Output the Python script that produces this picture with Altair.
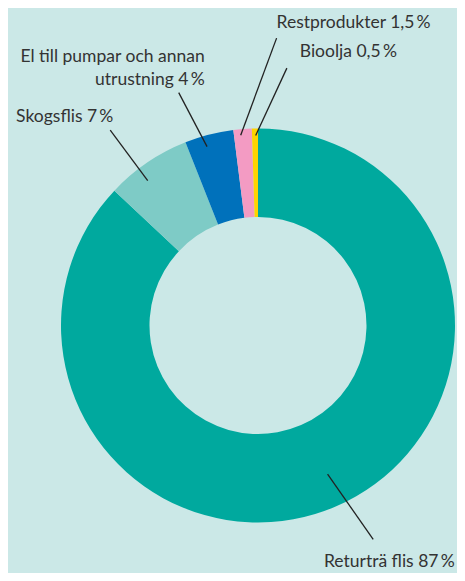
import math
import altair as alt
import pandas as pd

# ---- data ----
categories = ["Returträ flis", "Skogsflis", "El till pumpar och annan utrustning",
              "Restprodukter", "Bioolja"]
values = [87, 7, 4, 1.5, 0.5]
label_lines = [["Returträ flis 87\u2009%"], ["Skogsflis 7\u2009%"],
               ["El till pumpar och annan", "utrustning 4\u2009%"],
               ["Restprodukter 1,5\u2009%"], ["Bioolja 0,5\u2009%"]]
colors = ["#00a99e", "#7ecbc6", "#0071bb", "#f39bc3", "#ffd400"]

# ---- layout (not data) ----
BG = "#cbe8e7"
W, H = 449, 565
CX, CY = 250, 317.5          # donut centre inside the plot area (px)
R_OUT, R_IN = 197, 108.5
# leader line: (angle offset inner, radius inner, angle offset outer, radius outer)
leader = [(-1.7, 164, -4.9, 243), (-3.1, 182, -2.9, 245), (-1.5, 186, -4.4, 246),
          (-0.7, 191, 8.2, 288), (0.2, 190, 7.3, 259)]
# text offset from outer end of leader (dx right, dy down, px), align
text_off = [(81.5, 27.5, "right"), (-45.5, -8, "center"), (26, -31, "right"),
            (77, -10, "center"), (61.5, -11, "center")]
LINE_H = 23

total = sum(values)
cum = 0.0
arc_rows, rule_rows, text_rows = [], [], []
for i, (c, v) in enumerate(zip(categories, values)):
    a0 = cum / total * 360
    cum += v
    a1 = cum / total * 360
    mid = (a0 + a1) / 2
    arc_rows.append({"cat": c, "value": v, "order": i})
    di, ri, do, ro = leader[i]
    xi = ri * math.sin(math.radians(mid + di))
    yi = ri * math.cos(math.radians(mid + di))
    xo = ro * math.sin(math.radians(mid + do))
    yo = ro * math.cos(math.radians(mid + do))
    rule_rows.append({"x": xi, "y": yi, "x2": xo, "y2": yo})
    dx, dy, al = text_off[i]
    for j, line in enumerate(label_lines[i]):
        text_rows.append({"x": xo + dx, "y": yo - dy - j * LINE_H,
                          "t": line, "align": al})

arcs = pd.DataFrame(arc_rows)
rules = pd.DataFrame(rule_rows)
texts = pd.DataFrame(text_rows)

xs = alt.Scale(domain=[-CX, W - CX], nice=False, zero=False)
ys = alt.Scale(domain=[CY - H, CY], nice=False, zero=False)

donut = alt.Chart(arcs).mark_arc(innerRadius=R_IN, outerRadius=R_OUT, stroke=None).encode(
    theta=alt.Theta("value:Q", stack=True),
    order=alt.Order("order:Q"),
    color=alt.Color("cat:N", scale=alt.Scale(domain=categories, range=colors), legend=None),
    x=alt.X(datum=0, type="quantitative", scale=xs, axis=None),
    y=alt.Y(datum=0, type="quantitative", scale=ys, axis=None),
)

lines = alt.Chart(rules).mark_rule(color="#222222", strokeWidth=1.3).encode(
    x=alt.X("x:Q", scale=xs, axis=None),
    y=alt.Y("y:Q", scale=ys, axis=None),
    x2="x2:Q",
    y2="y2:Q",
)

def text_layer(al):
    return alt.Chart(texts[texts["align"] == al]).mark_text(
        align=al, baseline="alphabetic", font="Lato", fontSize=17.5, color="#333333"
    ).encode(
        x=alt.X("x:Q", scale=xs, axis=None),
        y=alt.Y("y:Q", scale=ys, axis=None),
        text="t:N",
    )

chart = alt.layer(donut, lines, text_layer("center"), text_layer("right")).properties(
    width=W, height=H, background=BG, padding=0,
    autosize=alt.AutoSizeParams(type="none"),
).configure_view(stroke=None)

chart.save("out.html", embed_options={"renderer": "svg", "actions": False})
